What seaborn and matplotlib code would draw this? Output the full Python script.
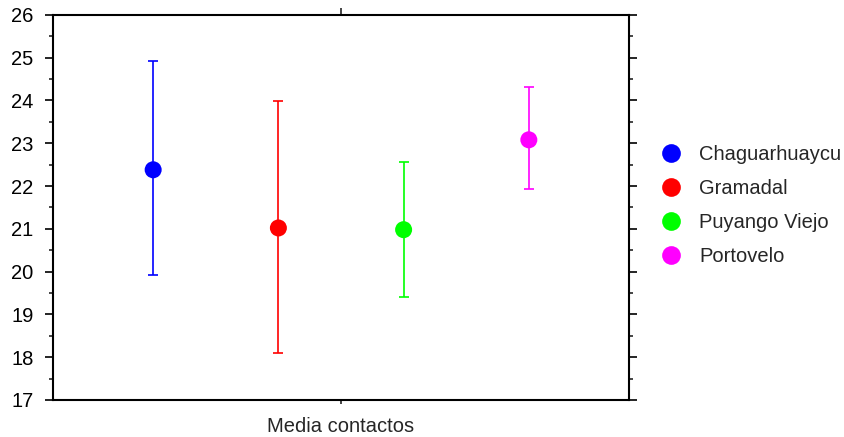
import numpy as np
import pandas as pd
import matplotlib.pyplot as plt
import seaborn as sns
from matplotlib.ticker import MultipleLocator

sitios = ['Chaguarhuaycu', 'Gramadal', 'Puyango Viejo', 'Portovelo']
media = [22.38, 21.02, 20.98, 23.08]
inferior = [19.93, 18.10, 19.41, 21.93]
superior = [24.93, 23.99, 22.57, 24.32]
colores = ['#0000ff', '#ff0000', '#00ff00', '#ff00ff']

df = pd.DataFrame({'sitio': sitios, 'media': media, 'inf': inferior, 'sup': superior})
df['pos'] = np.arange(len(df))

sns.set_style('white')
plt.rcParams['font.family'] = ['Liberation Sans', 'DejaVu Sans']

fig = plt.figure(figsize=(8.45, 4.37), dpi=100)
ax = fig.add_axes([0.0627, 0.0847, 0.6817, 0.8813])

for _, r in df.iterrows():
    c = colores[sitios.index(r['sitio'])]
    ax.errorbar(r['pos'], r['media'],
                yerr=[[r['media'] - r['inf']], [r['sup'] - r['media']]],
                fmt='none', ecolor=c, elinewidth=1.2, capsize=3.6, capthick=1.2, zorder=2)

sns.scatterplot(data=df, x='pos', y='media', hue='sitio', palette=colores,
                s=150, edgecolor='none', ax=ax, zorder=3)

ax.set_xlim(-0.8, 3.8)
ax.set_ylim(17, 26)
ax.yaxis.set_major_locator(MultipleLocator(1))
ax.yaxis.set_minor_locator(MultipleLocator(0.5))
ax.set_xticks([1.5])
ax.set_xticklabels([''])
ax.set_xlabel('Media contactos', fontsize=14.5, labelpad=7)
ax.set_ylabel('')

for s in ax.spines.values():
    s.set_color('black')
    s.set_linewidth(1.5)

ax.tick_params(axis='y', which='major', left=True, right=True, direction='out',
               length=6, width=1.2, labelsize=14.5, colors='black', pad=8)
ax.tick_params(axis='y', which='minor', left=True, right=True, direction='out',
               length=3, width=1.2)
ax.tick_params(axis='x', which='major', bottom=True, top=True, direction='out',
               length=5, width=1.2, pad=0)
for t in ax.xaxis.get_major_ticks():
    t.tick1line.set_markersize(3)

leg = ax.legend(loc='center left', bbox_to_anchor=(0.782, 0.529), bbox_transform=fig.transFigure,
                frameon=False, fontsize=14.5, handlelength=1.0, handletextpad=0.9,
                labelspacing=0.75, markerscale=1.1, borderpad=0, borderaxespad=0)

fig.savefig('out.png', dpi=100)
